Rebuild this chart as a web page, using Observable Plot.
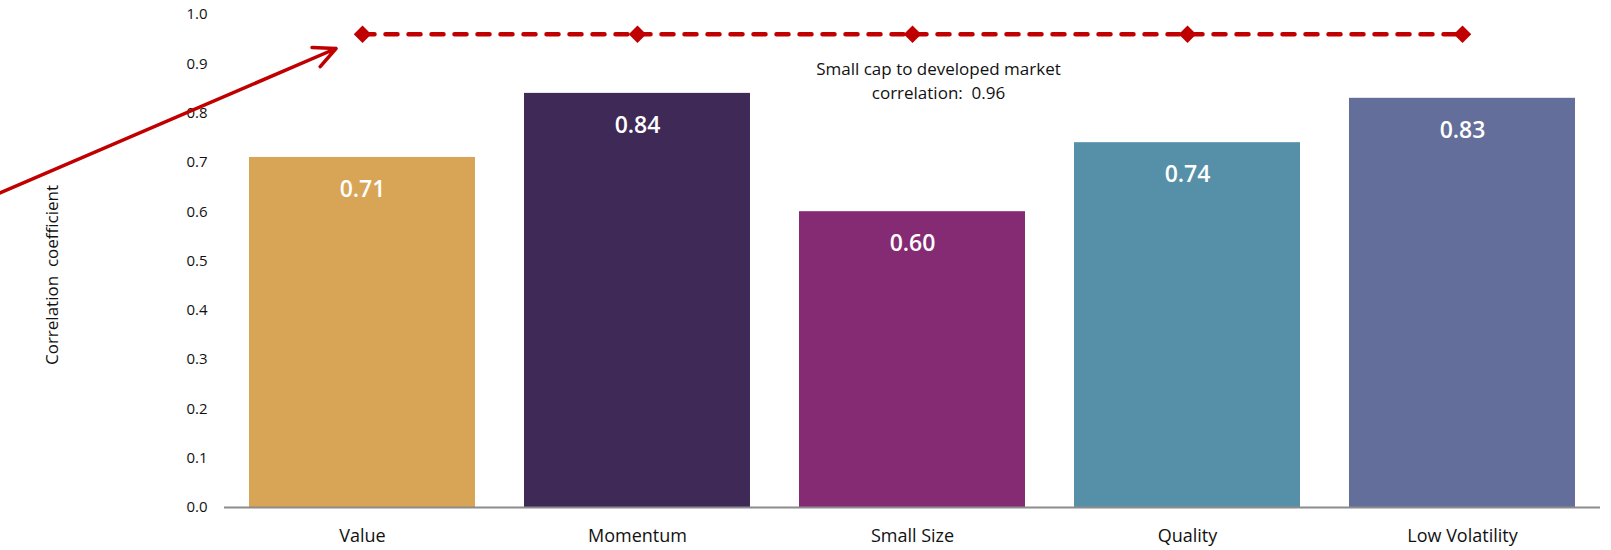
<!DOCTYPE html>
<html>
<head>
<meta charset="utf-8">
<script src="https://cdn.jsdelivr.net/npm/d3@7"></script>
<script src="https://cdn.jsdelivr.net/npm/@observablehq/plot@0.6"></script>
<style>
  html, body { margin: 0; padding: 0; background: #fff; }
  #chart { width: 1611px; height: 550px; }
  svg { font-family: "Open Sans", Lato, sans-serif; }
</style>
</head>
<body>
<div id="chart"></div>
<script>
const categories = ["Value", "Momentum", "Small Size", "Quality", "Low Volatility"];
const values = [0.71, 0.84, 0.60, 0.74, 0.83];
const colors = ["#D8A557", "#3F2956", "#842B74", "#5690A8", "#636E9A"];
const smallCapCorrelation = 0.96;
const yTicks = [0, 0.1, 0.2, 0.3, 0.4, 0.5, 0.6, 0.7, 0.8, 0.9, 1.0];
const yLabel = "Correlation  coefficient";
const noteLines = ["Small cap to developed market", "correlation:  0.96"];
const noteCategory = "Small Size";
const noteValue = 0.869;
// arrow annotation: start at left edge of the svg, end near first marker
const arrowStartValue = 0.637;
const arrowEndCategory = "Value";
const arrowEndValue = 0.93;

const data = categories.map((c, i) => ({name: c, value: values[i], color: colors[i]}));
const refData = categories.map(c => ({name: c, value: smallCapCorrelation}));

const red = "#C00000";

const arrowMark = (index, scales, channels, dimensions, context) => {
  const x = scales.x, y = scales.y;
  const bw = x.bandwidth ? x.bandwidth() : 0;
  const x2 = x(arrowEndCategory) + bw / 2 - 26;
  const y2 = y(arrowEndValue);
  const x1 = 0;
  const y1 = y(arrowStartValue);
  const ang = Math.atan2(y2 - y1, x2 - x1);
  const len = 24, spread = Math.PI / 7;
  const a1x = x2 - len * Math.cos(ang - spread), a1y = y2 - len * Math.sin(ang - spread);
  const a2x = x2 - len * Math.cos(ang + spread), a2y = y2 - len * Math.sin(ang + spread);
  const g = d3.create("svg:g");
  g.append("path")
    .attr("d", `M${x1},${y1}L${x2},${y2}M${a1x},${a1y}L${x2},${y2}L${a2x},${a2y}`)
    .attr("fill", "none").attr("stroke", red).attr("stroke-width", 3.5)
    .attr("stroke-linecap", "round").attr("stroke-linejoin", "round");
  return g.node();
};

const plot = Plot.plot({
  width: 1611,
  height: 550,
  marginLeft: 224,
  marginRight: 11,
  marginTop: 14,
  marginBottom: 43,
  style: {fontFamily: "'Open Sans', Lato, sans-serif", background: "#fff"},
  x: {domain: categories, paddingInner: 0.18, paddingOuter: 0.09, label: null},
  y: {domain: [0, 1], label: null},
  marks: [
    Plot.barY(data, {x: "name", y: "value", fill: "color"}),
    Plot.ruleY([0], {stroke: "#8C8C8C", strokeWidth: 2}),
    Plot.axisY({ticks: yTicks, tickFormat: d3.format(".1f"), tickSize: 0, tickPadding: 17, fontSize: 15, label: null, color: "#111"}),
    Plot.axisX({tickSize: 0, tickPadding: 22, fontSize: 18, label: null, color: "#111"}),
    Plot.text([yLabel], {frameAnchor: "left", rotate: -90, textAnchor: "middle", dx: -172, dy: 14, fontSize: 17, fill: "#111"}),
    Plot.text(data, {x: "name", y: "value", text: d => d.value.toFixed(2), dy: 32, fill: "#fff", fontSize: 23, fontWeight: 600, letterSpacing: 1}),
    Plot.line(refData, {x: "name", y: "value", stroke: red, strokeWidth: 4.5, strokeDasharray: "12,11", strokeLinecap: "round"}),
    Plot.dot(refData, {x: "name", y: "value", symbol: "square", rotate: 45, r: 7, fill: red, stroke: "none"}),
    Plot.text([noteLines.join("\n")], {x: () => noteCategory, y: () => noteValue, dx: 26, fontSize: 17, fill: "#111", lineHeight: 1.45}),
    arrowMark
  ]
});

document.getElementById("chart").appendChild(plot);
</script>
</body>
</html>
